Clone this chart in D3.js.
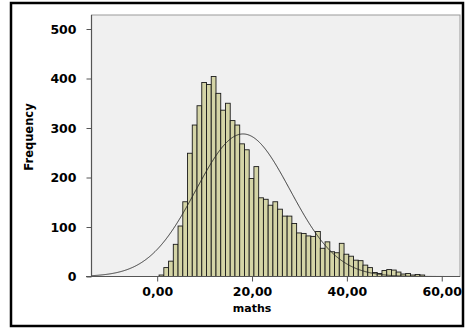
<!DOCTYPE html>
<html>
<head>
<meta charset="utf-8">
<script src="https://cdn.jsdelivr.net/npm/d3@7"></script>
<style>
  html, body { margin: 0; padding: 0; background: #ffffff; }
  svg { display: block; }
</style>
</head>
<body>
<svg id="chart" width="468" height="330"></svg>
<script>
// ---- data ----
const binLow = [0.4, 1.4, 2.4, 3.4, 4.4, 5.4, 6.4, 7.4, 8.4, 9.4,
  10.4, 11.4, 12.4, 13.4, 14.4, 15.4, 16.4, 17.4, 18.4, 19.4,
  20.4, 21.4, 22.4, 23.4, 24.4, 25.4, 26.4, 27.4, 28.4, 29.4,
  30.4, 31.4, 32.4, 33.4, 34.4, 35.4, 36.4, 37.4, 38.4, 39.4,
  40.4, 41.4, 42.4, 43.4, 44.4, 45.4, 46.4, 47.4, 48.4, 49.4,
  50.4, 51.4, 52.4, 53.4, 54.4, 55.4];
const binWidth = 1;
const counts = [3, 18, 31, 65, 102, 151, 249, 306, 345, 392,
  388, 404, 370, 336, 350, 315, 306, 268, 256, 198,
  222, 159, 156, 144, 151, 136, 122, 122, 107, 88,
  87, 82, 81, 91, 57, 70, 50, 48, 67, 45,
  41, 33, 32, 23, 18, 8, 6, 12, 14, 13,
  9, 5, 6, 3, 4, 3];
const normalMean = 18.1;
const normalSD = 9.93;
const yTicks = [0, 100, 200, 300, 400, 500];
const xTicks = [0, 20, 40, 60];
const xTickLabels = ["0,00", "20,00", "40,00", "60,00"];
const xTitle = "maths";
const yTitle = "Frequency";

// ---- layout ----
const svg = d3.select("#chart");
const plot = { left: 91.5, right: 460, top: 15, bottom: 276.5 };
const x = d3.scaleLinear().domain([-13.85, 63.85]).range([plot.left, plot.right]);
const y = d3.scaleLinear().domain([0, 528.3]).range([plot.bottom, plot.top]);

// outer frame
svg.append("rect")
  .attr("x", 11).attr("y", 3).attr("width", 452).attr("height", 323)
  .attr("fill", "#ffffff").attr("stroke", "#000").attr("stroke-width", 2.5);

// plot background
svg.append("rect")
  .attr("x", plot.left).attr("y", plot.top)
  .attr("width", plot.right - plot.left).attr("height", plot.bottom - plot.top)
  .attr("fill", "#f0f0f0").attr("stroke", "#9a9a9a").attr("stroke-width", 1);

// bars
svg.append("g").selectAll("rect").data(counts).join("rect")
  .attr("x", (d, i) => x(binLow[i]))
  .attr("width", (d, i) => x(binLow[i] + binWidth) - x(binLow[i]))
  .attr("y", d => y(d))
  .attr("height", d => y(0) - y(d))
  .attr("fill", "#d4d4a6")
  .attr("stroke", "#1a1a1a")
  .attr("stroke-width", 0.9);

// normal curve
const N = d3.sum(counts);
const xs = d3.range(x.domain()[0], x.domain()[1], 0.1);
const pdf = v => N * binWidth / (normalSD * Math.sqrt(2 * Math.PI)) *
  Math.exp(-0.5 * Math.pow((v - normalMean) / normalSD, 2));
svg.append("path")
  .datum(xs)
  .attr("d", d3.line().x(v => x(v)).y(v => y(pdf(v))).curve(d3.curveLinear))
  .attr("fill", "none").attr("stroke", "#222").attr("stroke-width", 0.9);

// axes lines
svg.append("line")
  .attr("x1", plot.left).attr("x2", plot.left)
  .attr("y1", plot.top).attr("y2", plot.bottom)
  .attr("stroke", "#555").attr("stroke-width", 1.2);
svg.append("line")
  .attr("x1", 86).attr("x2", plot.right)
  .attr("y1", plot.bottom).attr("y2", plot.bottom)
  .attr("stroke", "#555").attr("stroke-width", 1.2);

const fontFam = "'DejaVu Sans', Verdana, sans-serif";

// y axis
const yAxis = d3.axisLeft(y).tickValues(yTicks).tickSize(5).tickPadding(10).tickFormat(d => String(d));
const gy = svg.append("g").attr("transform", `translate(${plot.left},0)`).call(yAxis);
gy.select(".domain").remove();
gy.selectAll(".tick line").attr("stroke", "#555");
gy.selectAll(".tick text").attr("font-family", fontFam).attr("font-size", 12.5)
  .attr("font-weight", "bold").attr("fill", "#000");

// x axis
const xAxis = d3.axisBottom(x).tickValues(xTicks).tickSize(5).tickPadding(6)
  .tickFormat((d, i) => xTickLabels[i]);
const gx = svg.append("g").attr("transform", `translate(0,${plot.bottom})`).call(xAxis);
gx.select(".domain").remove();
gx.selectAll(".tick line").attr("stroke", "#555");
gx.selectAll(".tick text").attr("font-family", fontFam).attr("font-size", 12.5)
  .attr("font-weight", "bold").attr("fill", "#000");

// titles
svg.append("text")
  .attr("x", x(20)).attr("y", 312)
  .attr("text-anchor", "middle")
  .attr("font-family", fontFam).attr("font-size", 11).attr("font-weight", "bold")
  .text(xTitle);
svg.append("text")
  .attr("transform", `translate(33,137) rotate(-90)`)
  .attr("text-anchor", "middle")
  .attr("font-family", fontFam).attr("font-size", 11.5).attr("font-weight", "bold")
  .text(yTitle);
</script>
</body>
</html>
